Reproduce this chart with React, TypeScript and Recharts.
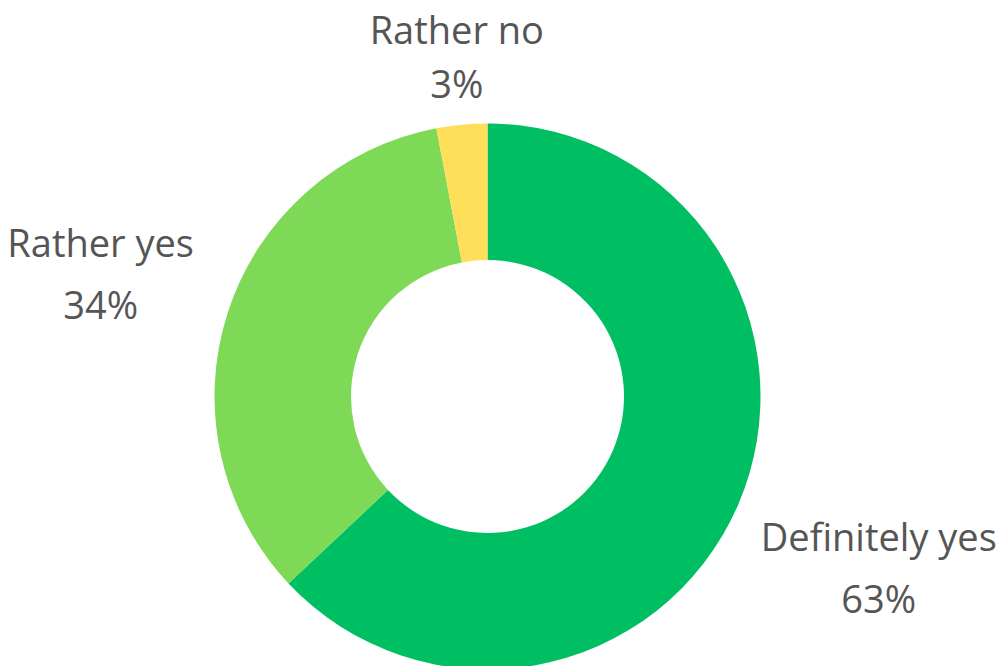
import { PieChart, Pie, Cell } from "recharts";

const answers = ["Definitely yes", "Rather yes", "Rather no"];
const shares = [63, 34, 3];
const colors = ["#00BF63", "#7ED957", "#FFDE59"];

const data = answers.map((name, i) => ({ name, value: shares[i] }));

const FONT = "'Open Sans', sans-serif";
const FONT_SIZE = 38;
const RADIAN = Math.PI / 180;

let ctx: CanvasRenderingContext2D | null = null;
function textWidth(s: string) {
  if (!ctx) ctx = document.createElement("canvas").getContext("2d");
  if (!ctx) return s.length * 17;
  ctx.font = `${FONT_SIZE}px 'Open Sans'`;
  return ctx.measureText(s).width;
}

// name on one line, percentage below, pushed out so the text clears the ring
function renderLabel(props: any) {
  const { cx, cy, midAngle, outerRadius, name, value } = props;
  const cos = Math.cos(-midAngle * RADIAN);
  const sin = Math.sin(-midAngle * RADIAN);
  const hw = textWidth(name) / 2;
  const r = outerRadius + 45 + hw * Math.abs(cos);
  const x = cx + r * cos;
  const y = cy + r * sin;
  const vert = Math.pow(Math.abs(sin), 4); // ~1 for labels above/below, ~0 at the sides
  return (
    <text
      x={x}
      y={y}
      textAnchor="middle"
      fill="#555555"
      fontFamily={FONT}
      fontSize={FONT_SIZE}
    >
      <tspan x={x} y={y - 14 - 14 * vert}>{name}</tspan>
      <tspan x={x} y={y + 48 - 22 * vert}>{`${value}%`}</tspan>
    </text>
  );
}

export default function App() {
  return (
    <div style={{ position: "absolute", left: 0, top: 0, width: 1000, height: 666, background: "#fff" }}>
      <PieChart width={1000} height={666} margin={{ top: 0, right: 0, bottom: 0, left: 0 }}>
        <Pie
          data={data}
          dataKey="value"
          nameKey="name"
          cx={487.5}
          cy={396.5}
          innerRadius={136.5}
          outerRadius={273}
          startAngle={90}
          endAngle={-270}
          stroke="none"
          label={renderLabel}
          labelLine={false}
          isAnimationActive={false}
        >
          {data.map((d, i) => (
            <Cell key={d.name} fill={colors[i]} />
          ))}
        </Pie>
      </PieChart>
    </div>
  );
}
